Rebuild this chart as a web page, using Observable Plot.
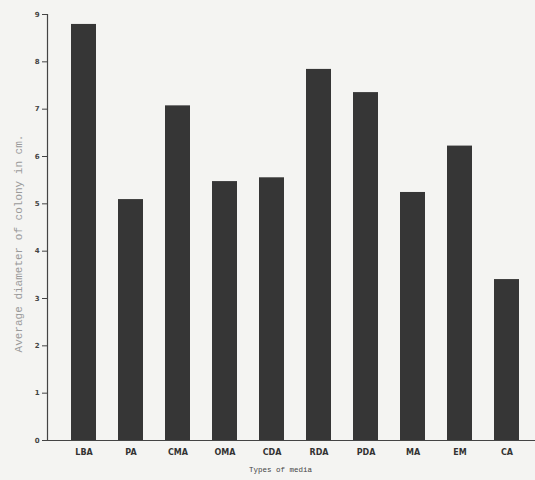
<!DOCTYPE html>
<html>
<head>
<meta charset="utf-8">
<script src="https://cdn.jsdelivr.net/npm/d3@7"></script>
<script src="https://cdn.jsdelivr.net/npm/@observablehq/plot@0.6"></script>
<style>
  html, body { margin: 0; padding: 0; background: #f4f4f2; overflow: hidden; }
  #chart { width: 535px; height: 480px; }
</style>
</head>
<body>
<div id="chart"></div>
<script>
const media = ["LBA", "PA", "CMA", "OMA", "CDA", "RDA", "PDA", "MA", "EM", "CA"];
const diameter = [8.79, 5.09, 7.07, 5.47, 5.55, 7.84, 7.35, 5.24, 6.22, 3.40];
const yTicks = [0, 1, 2, 3, 4, 5, 6, 7, 8, 9];
const yTitle = "Average diameter of colony in cm.";
const xTitle = "Types of media";

const data = media.map((m, i) => ({media: m, value: diameter[i]}));

const chart = Plot.plot({
  width: 535,
  height: 480,
  marginLeft: 47,
  marginRight: 0,
  marginTop: 14,
  marginBottom: 40,
  style: {background: "#f4f4f2", color: "#333"},
  x: {domain: media, range: [47, 543], padding: 0.46, label: null},
  y: {domain: [0, 9], label: null},
  marks: [
    Plot.barY(data, {x: "media", y: "value", fill: "#363636"}),
    Plot.frame({anchor: "left", stroke: "#444", strokeWidth: 1.2}),
    Plot.frame({anchor: "bottom", stroke: "#444", strokeWidth: 1.2}),
    Plot.axisY({ticks: yTicks, tickSize: 5, tickPadding: 3, fontSize: 7, fontFamily: "DejaVu Sans", fontWeight: "bold", label: null, stroke: "#444", fill: "#444"}),
    Plot.axisX({tickSize: 0, tickPadding: 9, fontSize: 8, fontFamily: "DejaVu Sans", fontWeight: "bold", label: null, fill: "#333"}),
    Plot.text([yTitle], {frameAnchor: "left", textAnchor: "middle", rotate: -90, dx: -29, dy: 16, fontSize: 11, fontFamily: "Liberation Mono", fill: "#9a9a9a"}),
    Plot.text([xTitle], {frameAnchor: "bottom", dx: -11, dy: 29, lineAnchor: "middle", fontSize: 7.5, fontFamily: "Liberation Mono", fill: "#444"})
  ]
});
document.getElementById("chart").appendChild(chart);
</script>
</body>
</html>
